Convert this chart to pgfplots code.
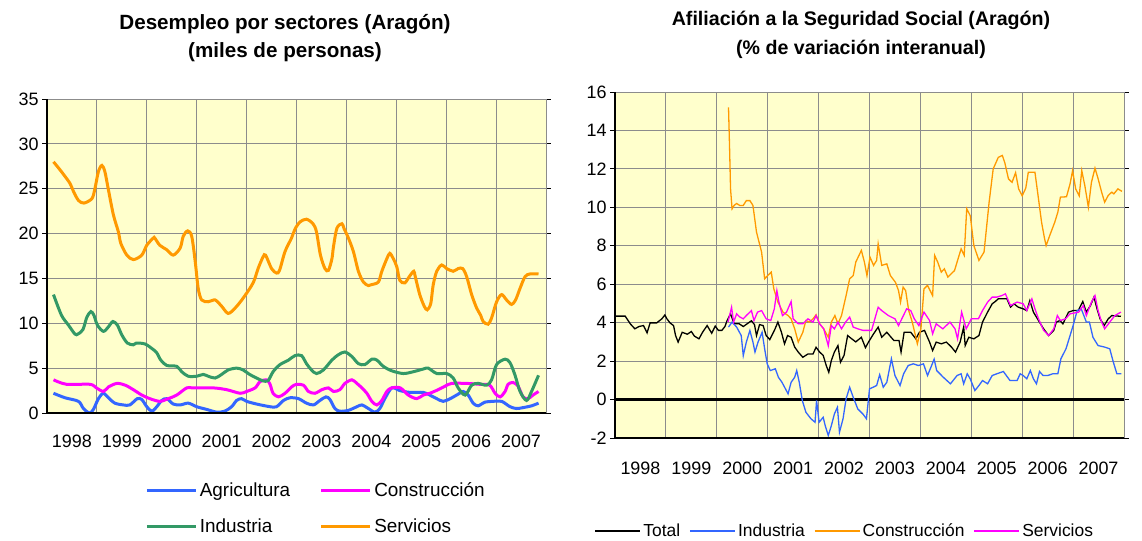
\documentclass[border=0pt]{standalone}
\usepackage{fontspec}
\setmainfont{Liberation Sans}
\usepackage{pgfplots}
\pgfplotsset{compat=1.18}

\definecolor{bgyellow}{HTML}{FFFFCC}
\definecolor{gridgray}{HTML}{8C8C8C}
\definecolor{agri}{HTML}{3366FF}
\definecolor{cons}{HTML}{FF00FF}
\definecolor{indu}{HTML}{339966}
\definecolor{serv}{HTML}{FF9900}

\pgfplotsset{
  panel/.style={
    scale only axis,
    xmin=1998, xmax=2008,
    xtick={1998,...,2008},
    x tick label as interval,
    xmajorgrids, ymajorgrids,
    grid style={gridgray, line width=0.9bp},
    axis background/.style={fill=bgyellow},
    axis line style={draw=none},
    tick align=outside,
    major tick length=5bp,
    xtick style={draw=none},
    ytick style={black, line width=0.9bp},
    tick label style={font=\fontsize{18}{20}\selectfont},
    /pgf/number format/assume math mode=true,
    xticklabel style={/pgf/number format/1000 sep={}},
    legend style={draw=none, fill=none, inner sep=0pt, outer sep=0pt,
      nodes={inner sep=2.5bp}},
    legend cell align=left,
    after end axis/.code={
      \draw[gridgray, line width=1bp] (rel axis cs:0,1) -- (rel axis cs:1,1) -- (rel axis cs:1,0);
      \draw[black, line width=1.6bp] (rel axis cs:0,1) -- (rel axis cs:0,0) -- (rel axis cs:1,0);
    },
  }
}

\begin{document}
\begin{tikzpicture}
\useasboundingbox (0,0) rectangle (1142bp,-541bp);

% titles
\node[anchor=base, font=\bfseries\fontsize{20.7}{24}\selectfont] at (285bp,-29.3bp) {Desempleo por sectores (Aragón)};
\node[anchor=base, font=\bfseries\fontsize{20.7}{24}\selectfont] at (285bp,-57.3bp) {(miles de personas)};
\node[anchor=base, font=\bfseries\fontsize{19.7}{24}\selectfont] at (861bp,-25bp) {Afiliación a la Seguridad Social (Aragón)};
\node[anchor=base, font=\bfseries\fontsize{19.7}{24}\selectfont] at (861bp,-54bp) {(\% de variación interanual)};

% left panel: unemployment by sector
\begin{axis}[panel,
  at={(47bp,-413bp)}, anchor=south west,
  width=499bp, height=314bp,
  ymin=0, ymax=35, ytick={0,5,...,35},
  xticklabel style={yshift=-13bp},
  legend columns=2,
  legend style={at={(0.197,-0.213)}, anchor=north west, row sep=16bp,
    font=\fontsize{19}{21}\selectfont,
    /tikz/every even column/.append style={column sep=27bp}},
  legend image code/.code={\draw[#1] (0bp,0bp) -- (49bp,0bp);},
]
\addplot[agri, line width=3bp, smooth] coordinates {
(1998.13,2.2) (1998.36,1.7) (1998.63,1.3) (1998.73,0.5) (1998.85,0.0) (1998.93,0.4)
(1999.03,1.6) (1999.13,2.2) (1999.23,1.7) (1999.36,1.1) (1999.53,0.9) (1999.66,0.9)
(1999.81,1.6) (1999.90,1.5) (2000.00,0.7) (2000.10,0.2) (2000.20,0.7) (2000.30,1.4)
(2000.40,1.6) (2000.53,1.0) (2000.67,0.9) (2000.83,1.1) (2001.00,0.7) (2001.20,0.4)
(2001.40,0.1) (2001.56,0.2) (2001.70,0.7) (2001.80,1.4) (2001.90,1.6) (2002.00,1.3)
(2002.20,1.0) (2002.47,0.7) (2002.60,0.7) (2002.74,1.4) (2002.87,1.7) (2003.04,1.6)
(2003.20,1.1) (2003.34,0.9) (2003.47,1.4) (2003.59,1.8) (2003.67,1.5) (2003.77,0.5)
(2003.87,0.2) (2004.04,0.3) (2004.21,0.7) (2004.31,0.9) (2004.44,0.5) (2004.57,0.1)
(2004.67,0.5) (2004.77,1.6) (2004.91,2.8) (2005.07,2.5) (2005.27,2.3) (2005.54,2.3)
(2005.67,2.0) (2005.81,1.6) (2005.94,1.3) (2006.08,1.6) (2006.24,2.1) (2006.34,2.4)
(2006.44,2.0) (2006.54,1.1) (2006.64,0.8) (2006.77,1.2) (2006.94,1.3) (2007.11,1.3)
(2007.28,0.7) (2007.41,0.5) (2007.54,0.6) (2007.71,0.8) (2007.85,1.1)
};
\addlegendentry{Agricultura}
\addplot[cons, line width=3bp, smooth] coordinates {
(1998.13,3.7) (1998.39,3.2) (1998.86,3.2) (1998.99,2.8) (1999.13,2.4) (1999.23,2.9)
(1999.40,3.3) (1999.57,3.1) (1999.73,2.6) (1999.90,2.0) (2000.06,1.6) (2000.26,1.3)
(2000.43,1.6) (2000.60,2.0) (2000.80,2.8) (2000.93,2.8) (2001.33,2.8) (2001.60,2.6)
(2001.87,2.2) (2002.00,2.4) (2002.17,2.8) (2002.27,3.5) (2002.40,3.7) (2002.47,3.2)
(2002.53,2.2) (2002.64,1.8) (2002.77,2.2) (2002.90,2.9) (2003.00,3.2) (2003.14,3.1)
(2003.24,2.4) (2003.37,2.2) (2003.51,2.6) (2003.64,2.8) (2003.74,2.4) (2003.87,2.6)
(2003.97,3.3) (2004.11,3.7) (2004.21,3.3) (2004.31,2.8) (2004.41,2.2) (2004.51,1.3)
(2004.61,0.9) (2004.71,1.4) (2004.81,2.4) (2004.91,2.8) (2005.08,2.8) (2005.24,2.0)
(2005.41,1.6) (2005.54,2.0) (2005.67,2.2) (2005.84,2.6) (2005.98,3.0) (2006.11,3.3)
(2006.41,3.3) (2006.67,3.2) (2006.87,3.1) (2006.98,2.2) (2007.08,1.8) (2007.18,2.4)
(2007.24,3.2) (2007.34,3.4) (2007.44,3.0) (2007.54,1.8) (2007.64,1.6) (2007.74,2.0)
(2007.85,2.4)
};
\addlegendentry{Construcción}
\addplot[indu, line width=3bp, smooth] coordinates {
(1998.13,13.2) (1998.29,10.9) (1998.43,9.8) (1998.56,8.8) (1998.62,8.8) (1998.72,9.3)
(1998.80,10.7) (1998.88,11.3) (1998.94,10.9) (1999.01,9.8) (1999.13,9.1) (1999.23,9.6)
(1999.32,10.2) (1999.41,9.8) (1999.50,8.7) (1999.61,7.8) (1999.73,7.6) (1999.79,7.8)
(1999.96,7.7) (2000.10,7.2) (2000.20,6.7) (2000.28,5.9) (2000.40,5.3) (2000.60,5.2)
(2000.70,4.6) (2000.83,4.1) (2001.00,4.1) (2001.13,4.3) (2001.23,4.1) (2001.37,3.9)
(2001.50,4.3) (2001.63,4.8) (2001.80,5.0) (2001.93,4.8) (2002.06,4.3) (2002.20,3.9)
(2002.32,3.6) (2002.43,3.6) (2002.53,4.6) (2002.67,5.4) (2002.84,5.9) (2002.97,6.4)
(2003.10,6.4) (2003.20,5.5) (2003.30,4.8) (2003.40,4.4) (2003.54,4.8) (2003.71,5.9)
(2003.84,6.5) (2003.97,6.8) (2004.11,6.3) (2004.24,5.5) (2004.37,5.4) (2004.51,6.0)
(2004.61,5.9) (2004.74,5.2) (2004.91,4.7) (2005.14,4.4) (2005.34,4.6) (2005.54,4.9)
(2005.64,5.0) (2005.81,4.4) (2006.01,4.4) (2006.14,3.9) (2006.24,2.8) (2006.38,2.0)
(2006.51,3.1) (2006.64,3.3) (2006.81,3.1) (2006.91,3.7) (2007.01,5.4) (2007.18,6.0)
(2007.28,5.6) (2007.38,4.2) (2007.48,2.4) (2007.61,1.4) (2007.71,2.4) (2007.85,4.2)
};
\addlegendentry{Industria}
\addplot[serv, line width=3bp, smooth] coordinates {
(1998.13,28.0) (1998.29,26.9) (1998.46,25.6) (1998.53,24.7) (1998.63,23.7) (1998.74,23.4)
(1998.90,23.9) (1998.96,25.0) (1999.03,26.9) (1999.10,27.6) (1999.16,26.9) (1999.23,24.9)
(1999.33,22.1) (1999.43,20.2) (1999.48,18.9) (1999.60,17.6) (1999.73,17.1) (1999.90,17.6)
(2000.00,18.7) (2000.13,19.5) (2000.16,19.5) (2000.26,18.7) (2000.40,18.2) (2000.53,17.6)
(2000.67,18.4) (2000.73,19.7) (2000.82,20.3) (2000.90,19.7) (2000.97,16.9) (2001.03,13.9)
(2001.10,12.6) (2001.23,12.4) (2001.37,12.6) (2001.50,11.9) (2001.63,11.1) (2001.77,11.7)
(2001.93,12.8) (2002.13,14.5) (2002.23,16.1) (2002.33,17.4) (2002.38,17.6) (2002.50,16.1)
(2002.60,15.6) (2002.66,15.9) (2002.77,18.0) (2002.90,19.5) (2002.97,20.5) (2003.07,21.3)
(2003.20,21.6) (2003.33,21.1) (2003.40,20.2) (2003.48,17.6) (2003.57,16.1) (2003.64,15.9)
(2003.71,17.2) (2003.74,18.5) (2003.81,20.6) (2003.91,21.1) (2003.95,20.6) (2004.04,19.5)
(2004.14,18.0) (2004.24,15.8) (2004.34,14.6) (2004.44,14.2) (2004.50,14.3) (2004.64,14.6)
(2004.71,15.8) (2004.81,17.2) (2004.87,17.8) (2004.94,17.2) (2005.01,16.3) (2005.07,14.8)
(2005.17,14.5) (2005.26,15.2) (2005.35,15.8) (2005.38,15.2) (2005.47,13.2) (2005.56,11.9)
(2005.62,11.5) (2005.69,12.2) (2005.74,14.3) (2005.81,15.8) (2005.91,16.5) (2006.01,16.1)
(2006.14,15.8) (2006.24,16.1) (2006.33,16.1) (2006.41,15.2) (2006.51,13.2) (2006.61,11.7)
(2006.69,10.9) (2006.74,10.2) (2006.84,9.9) (2006.91,10.6) (2007.01,12.4) (2007.11,13.2)
(2007.21,12.6) (2007.31,12.1) (2007.39,12.6) (2007.48,13.9) (2007.58,15.2) (2007.68,15.5)
(2007.85,15.5)
};
\addlegendentry{Servicios}
\end{axis}

% right panel: social security affiliation
\begin{axis}[panel,
  at={(615bp,-438bp)}, anchor=south west,
  width=509bp, height=346bp,
  ymin=-2, ymax=16, ytick={-2,0,...,16},
  xticklabel style={yshift=-15bp},
  legend columns=-1,
  legend style={at={(-0.04,-0.269)}, anchor=west,
    font=\fontsize{17.5}{20}\selectfont,
    /tikz/every even column/.append style={column sep=6.5bp}},
  legend image code/.code={\draw[#1] (0bp,0bp) -- (45bp,0bp);},
]
\addplot[black, line width=3.5bp, forget plot] coordinates {(1998,0) (2008,0)};
\addplot[black, line width=1.3bp] coordinates {
(1998.01,4.34) (1998.20,4.34) (1998.30,3.94) (1998.39,3.68) (1998.47,3.80) (1998.56,3.85)
(1998.63,3.47) (1998.69,3.99) (1998.82,3.99) (1998.92,4.20) (1998.98,4.40) (1999.02,4.20)
(1999.08,3.99) (1999.15,3.85) (1999.19,3.33) (1999.24,2.99) (1999.32,3.50) (1999.42,3.40)
(1999.50,3.54) (1999.56,3.30) (1999.65,3.16) (1999.72,3.50) (1999.81,3.85) (1999.90,3.45)
(1999.97,3.82) (2000.03,3.60) (2000.10,3.60) (2000.16,3.80) (2000.20,4.10) (2000.27,4.46)
(2000.34,3.94) (2000.44,3.94) (2000.52,3.80) (2000.68,4.10) (2000.74,3.90) (2000.78,3.33)
(2000.84,3.90) (2000.91,3.85) (2000.97,3.33) (2001.04,3.12) (2001.14,3.65) (2001.20,4.03)
(2001.27,3.50) (2001.33,2.90) (2001.39,3.33) (2001.46,3.24) (2001.53,2.73) (2001.60,2.47)
(2001.69,2.20) (2001.79,2.37) (2001.89,2.37) (2001.95,2.72) (2002.02,2.47) (2002.09,2.30)
(2002.15,1.77) (2002.20,1.42) (2002.25,2.03) (2002.31,2.47) (2002.38,2.81) (2002.43,1.94)
(2002.50,2.30) (2002.57,3.33) (2002.65,3.16) (2002.73,3.00) (2002.84,3.24) (2002.92,2.70)
(2002.98,2.99) (2003.08,3.42) (2003.17,3.77) (2003.24,3.24) (2003.34,3.50) (2003.48,3.07)
(2003.58,3.07) (2003.62,2.47) (2003.68,3.50) (2003.81,3.50) (2003.91,3.16) (2003.98,3.50)
(2004.08,3.60) (2004.18,2.99) (2004.24,2.55) (2004.31,2.99) (2004.41,2.90) (2004.51,2.99)
(2004.61,2.73) (2004.69,2.47) (2004.78,2.99) (2004.85,3.77) (2004.88,2.81) (2004.95,3.24)
(2005.05,3.16) (2005.15,3.33) (2005.22,4.03) (2005.32,4.55) (2005.41,4.98) (2005.47,5.10)
(2005.53,5.24) (2005.70,5.24) (2005.77,4.81) (2005.84,4.98) (2005.92,4.81) (2006.02,4.72)
(2006.09,4.63) (2006.15,5.15) (2006.22,4.55) (2006.32,4.11) (2006.42,3.68) (2006.52,3.33)
(2006.62,3.60) (2006.67,4.03) (2006.74,4.11) (2006.80,3.94) (2006.91,4.55) (2007.00,4.63)
(2007.10,4.63) (2007.19,5.10) (2007.26,4.55) (2007.34,4.89) (2007.41,5.33) (2007.47,4.72)
(2007.53,4.20) (2007.61,3.85) (2007.69,4.20) (2007.76,4.37) (2007.94,4.33)
};
\addlegendentry{Total}
\addplot[agri, line width=1.3bp] coordinates {
(2000.23,3.77) (2000.30,4.03) (2000.39,3.77) (2000.48,3.33) (2000.52,2.29) (2000.58,2.99)
(2000.65,3.59) (2000.71,2.99) (2000.75,2.47) (2000.81,2.99) (2000.89,3.50) (2000.94,2.64)
(2000.99,1.86) (2001.05,1.51) (2001.15,1.60) (2001.21,1.16) (2001.28,0.90) (2001.40,0.30)
(2001.46,0.90) (2001.53,1.16) (2001.57,1.51) (2001.62,0.90) (2001.68,-0.05) (2001.75,-0.66)
(2001.85,-1.00) (2001.93,-1.18) (2001.96,-0.05) (2002.01,-1.18) (2002.09,-0.92) (2002.13,-1.36)
(2002.19,-1.87) (2002.25,-1.36) (2002.31,-0.75) (2002.37,-0.40) (2002.41,-1.70) (2002.48,-1.00)
(2002.54,0.04) (2002.61,0.64) (2002.68,0.12) (2002.77,-0.49) (2002.87,-0.75) (2002.94,-1.00)
(2003.00,0.56) (2003.07,0.64) (2003.14,0.73) (2003.20,1.29) (2003.27,0.64) (2003.34,0.90)
(2003.43,2.12) (2003.50,1.25) (2003.60,0.73) (2003.67,1.34) (2003.76,1.77) (2003.86,1.86)
(2003.96,1.77) (2004.06,1.86) (2004.14,1.25) (2004.22,1.77) (2004.27,2.10) (2004.32,1.51)
(2004.45,1.16) (2004.59,0.82) (2004.72,1.25) (2004.80,1.34) (2004.85,0.82) (2004.92,1.34)
(2004.98,1.07) (2005.07,0.47) (2005.15,0.73) (2005.22,0.99) (2005.32,0.82) (2005.41,1.25)
(2005.50,1.34) (2005.63,1.46) (2005.76,0.99) (2005.90,0.99) (2005.96,1.34) (2006.02,1.25)
(2006.09,1.08) (2006.16,1.51) (2006.22,1.08) (2006.28,0.82) (2006.34,1.46) (2006.41,1.25)
(2006.50,1.25) (2006.60,1.34) (2006.70,1.34) (2006.76,2.12) (2006.86,2.64) (2006.93,3.24)
(2007.00,3.85) (2007.08,4.63) (2007.16,4.72) (2007.26,4.03) (2007.32,4.03) (2007.39,3.24)
(2007.49,2.81) (2007.62,2.73) (2007.72,2.64) (2007.79,1.95) (2007.86,1.34) (2007.95,1.34)
};
\addlegendentry{Industria}
\addplot[serv, line width=1.3bp] coordinates {
(2000.23,15.2) (2000.25,13.2) (2000.27,10.96) (2000.30,9.92) (2000.34,10.1) (2000.39,10.2)
(2000.45,10.1) (2000.52,10.1) (2000.58,10.35) (2000.65,10.35) (2000.71,10.1) (2000.78,8.71)
(2000.88,7.67) (2000.94,6.28) (2001.00,6.45) (2001.07,6.63) (2001.12,5.76) (2001.20,5.07)
(2001.30,4.55) (2001.40,4.37) (2001.46,4.20) (2001.53,3.68) (2001.60,2.99) (2001.69,3.50)
(2001.75,4.11) (2001.82,4.03) (2001.89,4.20) (2001.95,4.41) (2002.02,3.94) (2002.10,3.68)
(2002.19,3.24) (2002.25,4.03) (2002.32,4.37) (2002.38,3.94) (2002.45,4.37) (2002.54,5.41)
(2002.61,6.28) (2002.68,6.45) (2002.73,7.15) (2002.84,7.76) (2002.90,7.15) (2002.95,6.45)
(2003.01,7.41) (2003.08,6.98) (2003.14,7.24) (2003.17,8.10) (2003.24,6.98) (2003.34,7.06)
(2003.41,6.45) (2003.51,6.10) (2003.57,5.67) (2003.61,5.07) (2003.66,5.85) (2003.71,5.67)
(2003.77,4.63) (2003.84,4.03) (2003.94,2.90) (2004.01,3.68) (2004.07,5.76) (2004.14,5.94)
(2004.24,5.41) (2004.28,7.50) (2004.34,7.15) (2004.41,6.63) (2004.47,6.80) (2004.54,6.37)
(2004.67,6.71) (2004.76,7.50) (2004.80,7.84) (2004.86,7.50) (2004.91,9.92) (2004.98,9.56)
(2005.05,8.01) (2005.15,7.24) (2005.25,7.67) (2005.35,10.27) (2005.43,12.0) (2005.53,12.6)
(2005.61,12.7) (2005.66,12.3) (2005.73,11.48) (2005.80,11.3) (2005.87,11.8) (2005.93,10.96)
(2006.00,10.6) (2006.07,11.0) (2006.12,11.83) (2006.25,11.83) (2006.32,10.44) (2006.38,9.23)
(2006.44,8.36) (2006.47,8.01) (2006.54,8.53) (2006.64,9.23) (2006.70,9.75) (2006.75,10.53)
(2006.87,10.55) (2006.94,11.22) (2006.99,11.91) (2007.05,10.96) (2007.12,10.60) (2007.17,11.91)
(2007.23,11.13) (2007.30,10.01) (2007.36,11.30) (2007.43,12.04) (2007.49,11.50) (2007.56,10.79)
(2007.62,10.27) (2007.69,10.62) (2007.76,10.79) (2007.80,10.70) (2007.88,10.96) (2007.96,10.83)
};
\addlegendentry{Construcción}
\addplot[cons, line width=1.3bp] coordinates {
(2000.22,4.03) (2000.29,4.80) (2000.33,4.03) (2000.39,4.46) (2000.45,4.30) (2000.52,4.20)
(2000.58,4.37) (2000.68,4.63) (2000.73,4.11) (2000.80,4.55) (2000.88,4.63) (2000.97,4.20)
(2001.06,4.11) (2001.13,4.72) (2001.18,5.67) (2001.22,5.07) (2001.29,4.37) (2001.37,4.55)
(2001.46,5.10) (2001.50,4.20) (2001.60,3.94) (2001.69,3.94) (2001.79,4.20) (2001.89,4.03)
(2001.95,4.37) (2002.02,3.94) (2002.10,3.68) (2002.19,2.80) (2002.25,3.85) (2002.31,3.68)
(2002.38,4.03) (2002.45,3.68) (2002.53,4.03) (2002.61,4.29) (2002.68,3.77) (2002.77,3.68)
(2002.87,3.60) (2003.04,3.60) (2003.17,4.80) (2003.24,4.63) (2003.37,4.37) (2003.50,4.20)
(2003.57,3.85) (2003.73,4.72) (2003.81,4.63) (2003.88,4.20) (2003.97,3.85) (2004.07,4.55)
(2004.18,4.11) (2004.24,3.42) (2004.31,3.94) (2004.44,3.68) (2004.58,4.03) (2004.68,3.68)
(2004.73,3.16) (2004.81,4.55) (2004.90,3.68) (2005.00,4.20) (2005.14,4.20) (2005.22,4.63)
(2005.32,5.07) (2005.41,5.33) (2005.50,5.33) (2005.60,5.41) (2005.67,5.50) (2005.77,4.89)
(2005.90,5.07) (2006.02,4.98) (2006.09,4.63) (2006.19,5.24) (2006.25,4.72) (2006.32,4.20)
(2006.42,3.60) (2006.52,3.33) (2006.62,3.68) (2006.69,4.37) (2006.75,4.11) (2006.85,4.20)
(2006.94,4.46) (2007.11,4.55) (2007.20,4.89) (2007.26,4.37) (2007.36,5.07) (2007.43,5.41)
(2007.49,4.63) (2007.56,4.03) (2007.62,3.68) (2007.72,4.03) (2007.82,4.37) (2007.94,4.55)
};
\addlegendentry{Servicios}
\end{axis}
\end{tikzpicture}
\end{document}
